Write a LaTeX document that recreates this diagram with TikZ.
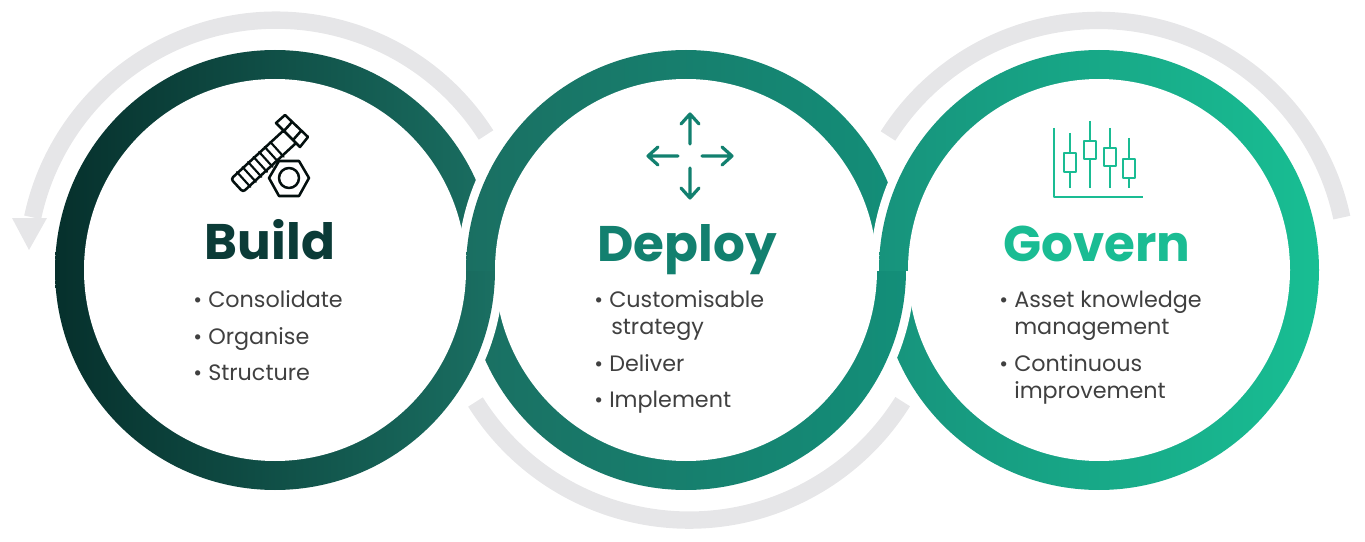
\documentclass[tikz,border=0pt]{standalone}
\usepackage{fontspec}
\setmainfont{Poppins}
\definecolor{buildL}{HTML}{06302C}\definecolor{buildR}{HTML}{1A6F62}
\definecolor{deployL}{HTML}{1A6F62}\definecolor{deployR}{HTML}{138F79}
\definecolor{govL}{HTML}{17937C}\definecolor{govR}{HTML}{18BE93}
\definecolor{grayarc}{HTML}{E6E6E8}
\definecolor{bodytxt}{HTML}{404040}
\definecolor{tBuild}{HTML}{0B3B37}\definecolor{tDeploy}{HTML}{12806F}\definecolor{tGov}{HTML}{1ABC93}
\newcommand{\ring}[3]{\shade[left color=#2,right color=#3] (#1) circle[radius=220];\fill[white] (#1) circle[radius=191];}
\newcommand{\gapdisc}[1]{\fill[white] (#1) circle[radius=228.5];}
\tikzset{
  title/.style={font=\fontsize{37.5pt}{40pt}\selectfont\bfseries,anchor=base,inner sep=0pt},
  item/.style={font=\fontsize{16.7pt}{20pt}\selectfont,text=bodytxt,anchor=base west,inner sep=0pt},
  bul/.style={font=\fontsize{16pt}{20pt}\selectfont,text=bodytxt,anchor=base west,inner sep=0pt},
  icon/.style={line width=1.9pt,line join=round,line cap=round},
  graya/.style={draw=grayarc,line width=13pt}
}
\begin{document}
\begin{tikzpicture}[x=0.75pt,y=-0.75pt]
\useasboundingbox (0,0) rectangle (1365,542);
\coordinate (B) at (275,270);
\coordinate (D) at (686,270);
\coordinate (G) at (1099,270);
% grey arcs
\draw[graya] (486,135) arc[start angle=-32.6,end angle=-168,radius=249];
\fill[grayarc] (12,218) -- (47,218) -- (29,250) -- cycle;
\draw[graya] (888,136) arc[start angle=-147.6,end angle=-12,radius=249];
\draw[graya] (475.5,402) arc[start angle=147.9,end angle=32,radius=252];
% lower half
\begin{scope}
\clip (0,270) rectangle (1365,542);
\ring{G}{govL}{govR}
\gapdisc{D}
\ring{D}{deployL}{deployR}
\gapdisc{B}
\ring{B}{buildL}{buildR}
\end{scope}
% upper half
\begin{scope}
\clip (0,0) rectangle (1365,270.5);
\ring{B}{buildL}{buildR}
\gapdisc{D}
\ring{D}{deployL}{deployR}
\gapdisc{G}
\ring{G}{govL}{govR}
\end{scope}
% bolt icon
\begin{scope}[icon,draw=black!75!tBuild]
\draw (285,115) -- (308,137) -- (300,147) -- (276,123) -- cycle;
\draw (292,122) -- (283,132) (301,131) -- (293,140);
\draw[rounded corners=2pt] (283,131) -- (231,179) -- (243,192) -- (295,144);
\foreach \t in {9,16.5,24,31.5,39,46.5,54}
  \draw[line width=1.6pt] ({237+0.74*\t+6.7},{185.5-0.67*\t+7.4}) -- ({237+0.74*\t-6.7},{185.5-0.67*\t-7.4});
\draw (309,178) -- (299,161) -- (279,161) -- (269,178) -- (279,196) -- (299,196) -- cycle;
\draw (289,178) circle[radius=10];
\end{scope}
% arrows icon
\begin{scope}[icon,draw=tDeploy,line width=2.4pt]
\draw (690,144) -- (690,114) (681,124) -- (690,114) -- (699,124);
\draw (690,168) -- (690,198) (681,188) -- (690,198) -- (699,188);
\draw (678,156) -- (648,156) (658,147) -- (648,156) -- (658,165);
\draw (702,156) -- (732,156) (722,147) -- (732,156) -- (722,165);
\end{scope}
% chart icon
\begin{scope}[icon,draw=tGov,line cap=butt,line width=2.2pt]
\draw (1054,128) -- (1054,197) -- (1143,197);
\foreach \x/\a/\l/\u in {1070/133/153/172,1090/121/141/159,1110/128/148/166,1129/138/159/178}{
  \draw (\x,\a) -- (\x,188);
  \draw[fill=white] (\x-6,\l) rectangle (\x+6,\u);
}
\end{scope}
% text
\node[title,text=tBuild] (tb) at (270,259) {Build};
\node[title,text=tDeploy] (td) at (687,261) {Deploy};
\node[title,text=tGov] (tg) at (1097,261) {Govern};
\foreach \n/\x/\y/\s in {b1/208/307/Consolidate,b2/208/344/Organise,b3/208/380/Structure,
  d1/609/307/Customisable,d3/609/371/Deliver,d4/609/407/Implement,
  g1/1014/307/Asset knowledge,g3/1014/371/Continuous}{
  \node[item] (\n) at (\x,\y) {\s};
  \node[bul] (\n b) at (\x-15,\y) {•};
}
\node[item] (d2) at (611,334) {strategy};
\node[item] (g2) at (1014,334) {management};
\node[item] (g4) at (1014,398) {improvement};
\end{tikzpicture}
\end{document}
